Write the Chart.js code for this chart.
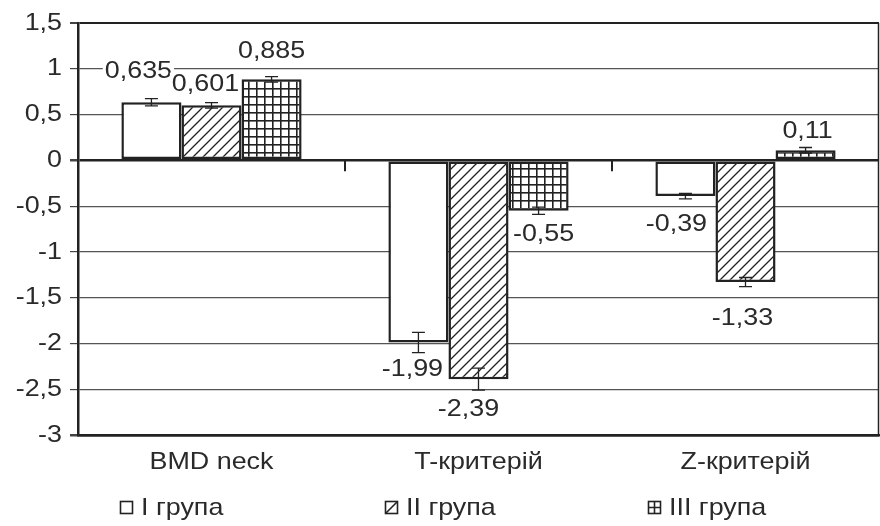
<!DOCTYPE html>
<html>
<head>
<meta charset="utf-8">
<script src="https://cdn.jsdelivr.net/npm/chart.js@4/dist/chart.umd.min.js"></script>
<style>
  html, body { margin: 0; padding: 0; background: #fff; }
  #wrap { width: 880px; height: 526px; position: relative; }
</style>
</head>
<body>
<div id="wrap"><canvas id="chart" width="880" height="526"></canvas></div>
<script>
// Bone density indicators by patient group
const categories = ['BMD neck', 'T-критерій', 'Z-критерій'];
const seriesNames = ['I група', 'II група', 'III група'];

const groupI   = [0.635, -1.99, -0.39];
const groupII  = [0.601, -2.39, -1.33];
const groupIII = [0.885, -0.55, 0.11];

// half-width of the error whiskers
const errI   = [0.04, 0.11, 0.03];
const errII  = [0.03, 0.12, 0.05];
const errIII = [0.03, 0.04, 0.03];

const yMin = -3, yMax = 1.5, yStep = 0.5;

// value label nudges (px) relative to the bar end, per series / category
const labelShift = [
  [[-13, -32], [-6, 26], [-9, 27]],
  [[-6, -22], [-10, 29], [-3, 35]],
  [[0, -29], [5, 23], [2, -20]]
];

// left edge of each legend swatch
const legendX = [120, 385, 648];
const legendY = 507;

const FONT = "'Liberation Sans', Arial, sans-serif";
const FSIZE = 24;
const TEXT_STRETCH = 1.12;   // wide-set lettering
const INK = '#222';
const TEXT = '#2a2a2a';

const fmt = v => String(v).replace('.', ',');

function hatchPattern() {
  const c = document.createElement('canvas');
  c.width = 10; c.height = 10;
  const g = c.getContext('2d');
  g.fillStyle = '#fff'; g.fillRect(0, 0, 10, 10);
  g.strokeStyle = INK; g.lineWidth = 1.3;
  g.beginPath();
  g.moveTo(-1, 11); g.lineTo(11, -1);
  g.moveTo(-6, 6); g.lineTo(6, -6);
  g.moveTo(4, 16); g.lineTo(16, 4);
  g.stroke();
  return g.createPattern(c, 'repeat');
}

function gridPattern() {
  const c = document.createElement('canvas');
  c.width = 8; c.height = 8;
  const g = c.getContext('2d');
  g.fillStyle = '#fff'; g.fillRect(0, 0, 8, 8);
  g.fillStyle = INK;
  g.fillRect(0, 0, 8, 1.6);
  g.fillRect(0, 0, 1.6, 8);
  return g.createPattern(c, 'repeat');
}

const fills = ['#ffffff', hatchPattern(), gridPattern()];
const values = [groupI, groupII, groupIII];
const errors = [errI, errII, errIII];

// every text run on the canvas is set slightly wide around its anchor point
const wideText = {
  id: 'wideText',
  beforeDraw(chart) {
    const ctx = chart.ctx;
    if (ctx.__wide) return;
    const plain = ctx.fillText;
    ctx.fillText = function (t, x, y, maxW) {
      this.save();
      this.translate(x, y);
      this.scale(TEXT_STRETCH, 1);
      plain.call(this, t, 0, 0);
      this.restore();
    };
    ctx.__wide = true;
  }
};

// whiskers, value labels, frame details and legend
const decorations = {
  id: 'decorations',
  afterDatasetsDraw(chart) {
    const ctx = chart.ctx;
    const y = chart.scales.y;
    const x = chart.scales.x;
    const area = chart.chartArea;

    // right frame edge
    ctx.save();
    ctx.strokeStyle = INK;
    ctx.lineWidth = 1.5;
    ctx.beginPath();
    ctx.moveTo(area.right - 0.5, area.top);
    ctx.lineTo(area.right - 0.5, area.bottom);
    ctx.stroke();

    // category separators on the zero line
    const y0 = y.getPixelForValue(0);
    ctx.lineWidth = 2;
    for (let i = 1; i < categories.length; i++) {
      const bx = (x.getPixelForTick(i - 1) + x.getPixelForTick(i)) / 2;
      ctx.beginPath();
      ctx.moveTo(bx, y0);
      ctx.lineTo(bx, y0 + 11);
      ctx.stroke();
    }

    // error whiskers
    ctx.lineWidth = 1.3;
    values.forEach((vals, d) => {
      const meta = chart.getDatasetMeta(d);
      vals.forEach((v, i) => {
        const bx = meta.data[i].x;
        const top = y.getPixelForValue(v + errors[d][i]);
        const bot = y.getPixelForValue(v - errors[d][i]);
        ctx.beginPath();
        ctx.moveTo(bx, top); ctx.lineTo(bx, bot);
        ctx.moveTo(bx - 6.5, top); ctx.lineTo(bx + 6.5, top);
        ctx.moveTo(bx - 6.5, bot); ctx.lineTo(bx + 6.5, bot);
        ctx.stroke();
      });
    });

    // value labels on white backing
    ctx.font = FSIZE + 'px ' + FONT;
    ctx.textAlign = 'center';
    ctx.textBaseline = 'middle';
    values.forEach((vals, d) => {
      const meta = chart.getDatasetMeta(d);
      vals.forEach((v, i) => {
        const txt = fmt(v);
        const cx = meta.data[i].x + labelShift[d][i][0];
        const cy = y.getPixelForValue(v) + labelShift[d][i][1];
        const w = ctx.measureText(txt).width * TEXT_STRETCH;
        ctx.fillStyle = '#fff';
        ctx.fillRect(cx - w / 2 - 2, cy - FSIZE * 0.45, w + 4, FSIZE * 0.9);
        ctx.fillStyle = TEXT;
        ctx.fillText(txt, cx, cy + 1);
      });
    });
    ctx.restore();
  },
  afterDraw(chart) {
    const ctx = chart.ctx;
    ctx.save();
    ctx.font = FSIZE + 'px ' + FONT;
    ctx.textBaseline = 'middle';
    ctx.textAlign = 'left';
    const box = 12;
    seriesNames.forEach((name, d) => {
      const bx = legendX[d] + 0.5, by = Math.round(legendY - box / 2) + 0.5;
      ctx.fillStyle = '#fff';
      ctx.fillRect(bx, by, box, box);
      ctx.strokeStyle = INK;
      ctx.lineWidth = 1.6;
      ctx.beginPath();
      if (d === 1) {
        ctx.moveTo(bx, by + box); ctx.lineTo(bx + box, by);
      } else if (d === 2) {
        ctx.moveTo(bx + box / 2, by); ctx.lineTo(bx + box / 2, by + box);
        ctx.moveTo(bx, by + box / 2); ctx.lineTo(bx + box, by + box / 2);
      }
      ctx.stroke();
      ctx.strokeRect(bx, by, box, box);
      ctx.fillStyle = TEXT;
      ctx.fillText(name, legendX[d] + box + 9, legendY + 1);
    });
    ctx.restore();
  }
};

new Chart(document.getElementById('chart'), {
  type: 'bar',
  data: {
    labels: categories,
    datasets: values.map((vals, d) => ({
      label: seriesNames[d],
      data: vals,
      backgroundColor: fills[d],
      borderColor: INK,
      borderWidth: 2.5,
      borderSkipped: false,
      categoryPercentage: 0.675,
      barPercentage: 1.0
    }))
  },
  options: {
    responsive: false,
    animation: false,
    devicePixelRatio: 1,
    layout: { padding: { top: 23, right: 1, left: 0, bottom: 0 } },
    plugins: {
      legend: { display: false },
      tooltip: { enabled: false }
    },
    scales: {
      x: {
        afterFit(scale) { scale.height = 91; },
        grid: { display: false },
        border: { display: true, color: INK, width: 2.5 },
        ticks: {
          padding: 5,
          color: TEXT,
          font: { family: FONT, size: FSIZE }
        }
      },
      y: {
        min: yMin,
        max: yMax,
        afterFit(scale) { scale.width = 78; },
        border: { display: true, color: INK, width: 2.5 },
        grid: {
          drawTicks: true,
          tickLength: 8,
          tickColor: '#444',
          color: ctx => {
            const v = ctx.tick ? ctx.tick.value : null;
            return (v === 0 || v === yMax || v === yMin) ? INK : '#555';
          },
          lineWidth: ctx => {
            const v = ctx.tick ? ctx.tick.value : null;
            if (v === 0 || v === yMin) return 2.5;
            if (v === yMax) return 2;
            return 1.2;
          }
        },
        ticks: {
          stepSize: yStep,
          padding: 8,
          color: TEXT,
          font: { family: FONT, size: FSIZE },
          callback: v => fmt(v)
        }
      }
    }
  },
  plugins: [wideText, decorations]
});
</script>
</body>
</html>
